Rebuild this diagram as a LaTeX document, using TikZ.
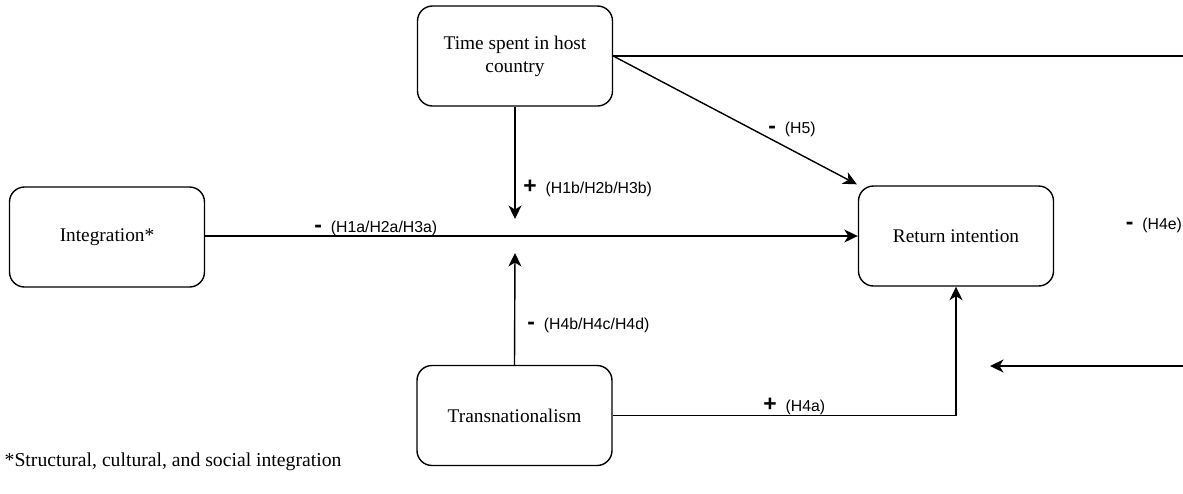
\documentclass[tikz,border=0pt]{standalone}
\usepackage{fontspec}
\setmainfont{Liberation Serif}
\newfontfamily\labelfont{Liberation Sans}
\usetikzlibrary{positioning,arrows,arrows.meta,calc}

\tikzset{
	box/.style={draw, rounded corners=0.3cm, line width=0.8pt,
		minimum width=3.9cm, minimum height=2cm, align=center,
		font=\fontsize{11}{13}\selectfont},
	hyp/.style={anchor=west, inner sep=1pt,
		font=\labelfont\fontsize{9}{10}\selectfont},
}
\newcommand{\pos}{{\bfseries\fontsize{13}{13}\selectfont +}}
\newcommand{\negt}{{\bfseries\fontsize{13}{13}\selectfont -}}

\begin{document}
\begin{tikzpicture}[>={Stealth[length=2.7mm,width=2.6mm,inset=0.8mm]}, line width=0.8pt]
	\useasboundingbox (0,0) rectangle (23.66,-9.86);

	\node[box] (Time) at (10.30,-1.12) {Time spent in host\\country};
	\node[box] (Int) at (2.14,-4.74) {Integration*};
	\node[box] (Ret) at (19.12,-4.72) {Return intention};
	\node[box] (Trans) at (10.29,-8.31) {Transnationalism};

	\coordinate (Mtop) at (10.30,-4.38);
	\coordinate (Mbot) at (10.30,-5.06);
	\coordinate (Rfar) at (24.6,-1.12);
	\coordinate (Rback) at (19.8,-7.32);

	\draw[->] (Int.east |- Ret.west) -- (Ret.west);
	\draw[->] (Time.south) -- (Mtop);
	\draw[->] (Trans.north) -- (Mbot);
	\draw[->] (Time.east) -- ($(Ret.north west)+(-0.02,0.02)$);
	\draw (Time.east) -- (Rfar) -- (Rfar |- Rback);
	\draw[->] (Rfar |- Rback) -- (Rback);
	\draw[->] (Trans.east) -- (Trans.east -| Ret.south) -- (Ret.south);

	% hypothesis labels
	\node[hyp] (h1) at (6.24,-4.56) {\negt\ \ (H1a/H2a/H3a)};
	\node[hyp] (h2) at (10.42,-3.76) {\pos\ \ (H1b/H2b/H3b)};
	\node[hyp] (h3) at (10.50,-6.50) {\negt\ \ (H4b/H4c/H4d)};
	\node[hyp] (h4) at (15.32,-2.58) {\negt\ \ (H5)};
	\node[hyp] (h5) at (22.47,-4.50) {\negt\ \ (H4e)};
	\node[hyp] (h6) at (15.22,-8.12) {\pos\ \ (H4a)};

	\node[anchor=west, inner sep=0pt, font=\fontsize{11.2}{13}\selectfont]
		(note) at (0.08,-9.24) {*Structural, cultural, and social integration};
\end{tikzpicture}
\end{document}
